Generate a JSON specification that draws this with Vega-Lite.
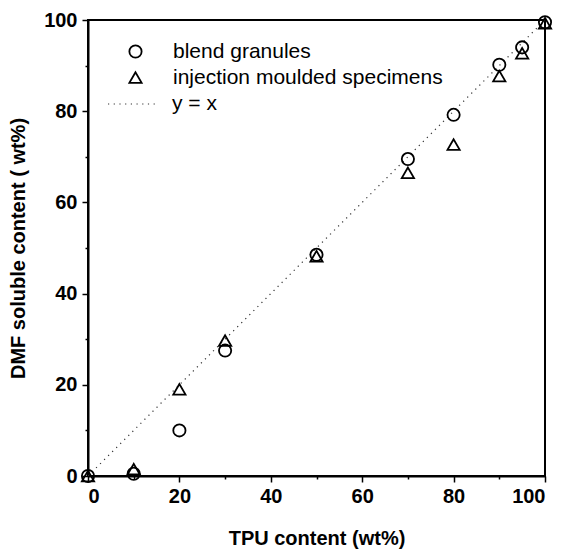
{
  "$schema": "https://vega.github.io/schema/vega-lite/v6.json",
  "width": 457,
  "height": 456,
  "autosize": "none",
  "padding": {"left": 88, "top": 20, "right": 17, "bottom": 74},
  "background": "white",
  "config": {
    "view": {"stroke": "black", "strokeWidth": 2},
    "font": "Liberation Sans",
    "axis": {
      "domainColor": "black",
      "domainWidth": 2,
      "tickColor": "black",
      "tickWidth": 1.5,
      "grid": false,
      "labelFont": "Liberation Sans",
      "labelFontWeight": "bold",
      "labelFontSize": 20,
      "labelColor": "black",
      "titleFont": "Liberation Sans",
      "titleFontWeight": "bold",
      "titleFontSize": 20,
      "titleColor": "black",
      "labelOverlap": false
    },
    "legend": {
      "labelFont": "Liberation Sans",
      "labelFontSize": 21,
      "labelColor": "black",
      "labelLimit": 400,
      "padding": 0
    }
  },
  "datasets": {
    "pts": [
      {"tpu": 0, "dmf": 0, "series": "blend granules"},
      {"tpu": 10, "dmf": 0.5, "series": "blend granules"},
      {"tpu": 20, "dmf": 10, "series": "blend granules"},
      {"tpu": 30, "dmf": 27.5, "series": "blend granules"},
      {"tpu": 50, "dmf": 48.5, "series": "blend granules"},
      {"tpu": 70, "dmf": 69.5, "series": "blend granules"},
      {"tpu": 80, "dmf": 79.2, "series": "blend granules"},
      {"tpu": 90, "dmf": 90.2, "series": "blend granules"},
      {"tpu": 95, "dmf": 94, "series": "blend granules"},
      {"tpu": 100, "dmf": 99.5, "series": "blend granules"},
      {"tpu": 0, "dmf": 0, "series": "injection moulded specimens"},
      {"tpu": 10, "dmf": 1.5, "series": "injection moulded specimens"},
      {"tpu": 20, "dmf": 19, "series": "injection moulded specimens"},
      {"tpu": 30, "dmf": 29.7, "series": "injection moulded specimens"},
      {"tpu": 50, "dmf": 48.2, "series": "injection moulded specimens"},
      {"tpu": 70, "dmf": 66.5, "series": "injection moulded specimens"},
      {"tpu": 80, "dmf": 72.7, "series": "injection moulded specimens"},
      {"tpu": 90, "dmf": 87.7, "series": "injection moulded specimens"},
      {"tpu": 95, "dmf": 92.7, "series": "injection moulded specimens"},
      {"tpu": 100, "dmf": 99.3, "series": "injection moulded specimens"}
    ],
    "ref": [
      {"tpu": 0, "dmf": 0, "series": "y = x"},
      {"tpu": 100, "dmf": 100, "series": "y = x"}
    ]
  },
  "encoding": {
    "x": {
      "field": "tpu", "type": "quantitative",
      "scale": {"domain": [0, 100], "nice": false, "zero": false},
      "axis": {
        "title": "TPU content (wt%)",
        "values": [0, 10, 20, 30, 40, 50, 60, 70, 80, 90, 100],
        "labelExpr": "datum.value % 20 === 0 ? datum.label : ''",
        "tickSize": {"condition": {"test": "datum.value % 20 === 0", "value": 6}, "value": 3},
        "labelPadding": 4,
        "titlePadding": 22
      }
    },
    "y": {
      "field": "dmf", "type": "quantitative",
      "scale": {"domain": [0, 100], "nice": false, "zero": false},
      "axis": {
        "title": "DMF soluble content ( wt%)",
        "values": [0, 10, 20, 30, 40, 50, 60, 70, 80, 90, 100],
        "labelExpr": "datum.value % 20 === 0 ? datum.label : ''",
        "tickSize": {"condition": {"test": "datum.value % 20 === 0", "value": 6}, "value": 3},
        "labelPadding": 5,
        "titlePadding": 15
      }
    }
  },
  "layer": [
    {
      "data": {"name": "ref"},
      "mark": {"type": "line", "color": "#333333", "strokeWidth": 1.2, "strokeDash": [1.2, 4.5], "clip": true},
      "encoding": {
        "strokeDash": {
          "field": "series", "type": "nominal",
          "scale": {"domain": ["y = x"], "range": [[1.2, 4.5]]},
          "legend": {
            "title": null,
            "orient": "none",
            "legendX": 19,
            "legendY": 58,
            "symbolType": "stroke",
            "symbolSize": 2500,
            "symbolStrokeColor": "#333333",
            "symbolStrokeWidth": 1.2,
            "labelOffset": 13
          }
        }
      }
    },
    {
      "data": {"name": "pts"},
      "mark": {"type": "point", "filled": false, "color": "black", "strokeWidth": 1.8, "size": 150, "opacity": 1},
      "encoding": {
        "shape": {
          "field": "series", "type": "nominal",
          "scale": {"domain": ["blend granules", "injection moulded specimens"], "range": ["circle", "triangle-up"]},
          "legend": {
            "title": null,
            "orient": "none",
            "legendX": 37,
            "legendY": 21,
            "symbolSize": 150,
            "symbolStrokeColor": "black",
            "symbolStrokeWidth": 1.8,
            "symbolFillColor": "transparent",
            "rowPadding": 4,
            "labelOffset": 27
          }
        }
      }
    }
  ]
}
